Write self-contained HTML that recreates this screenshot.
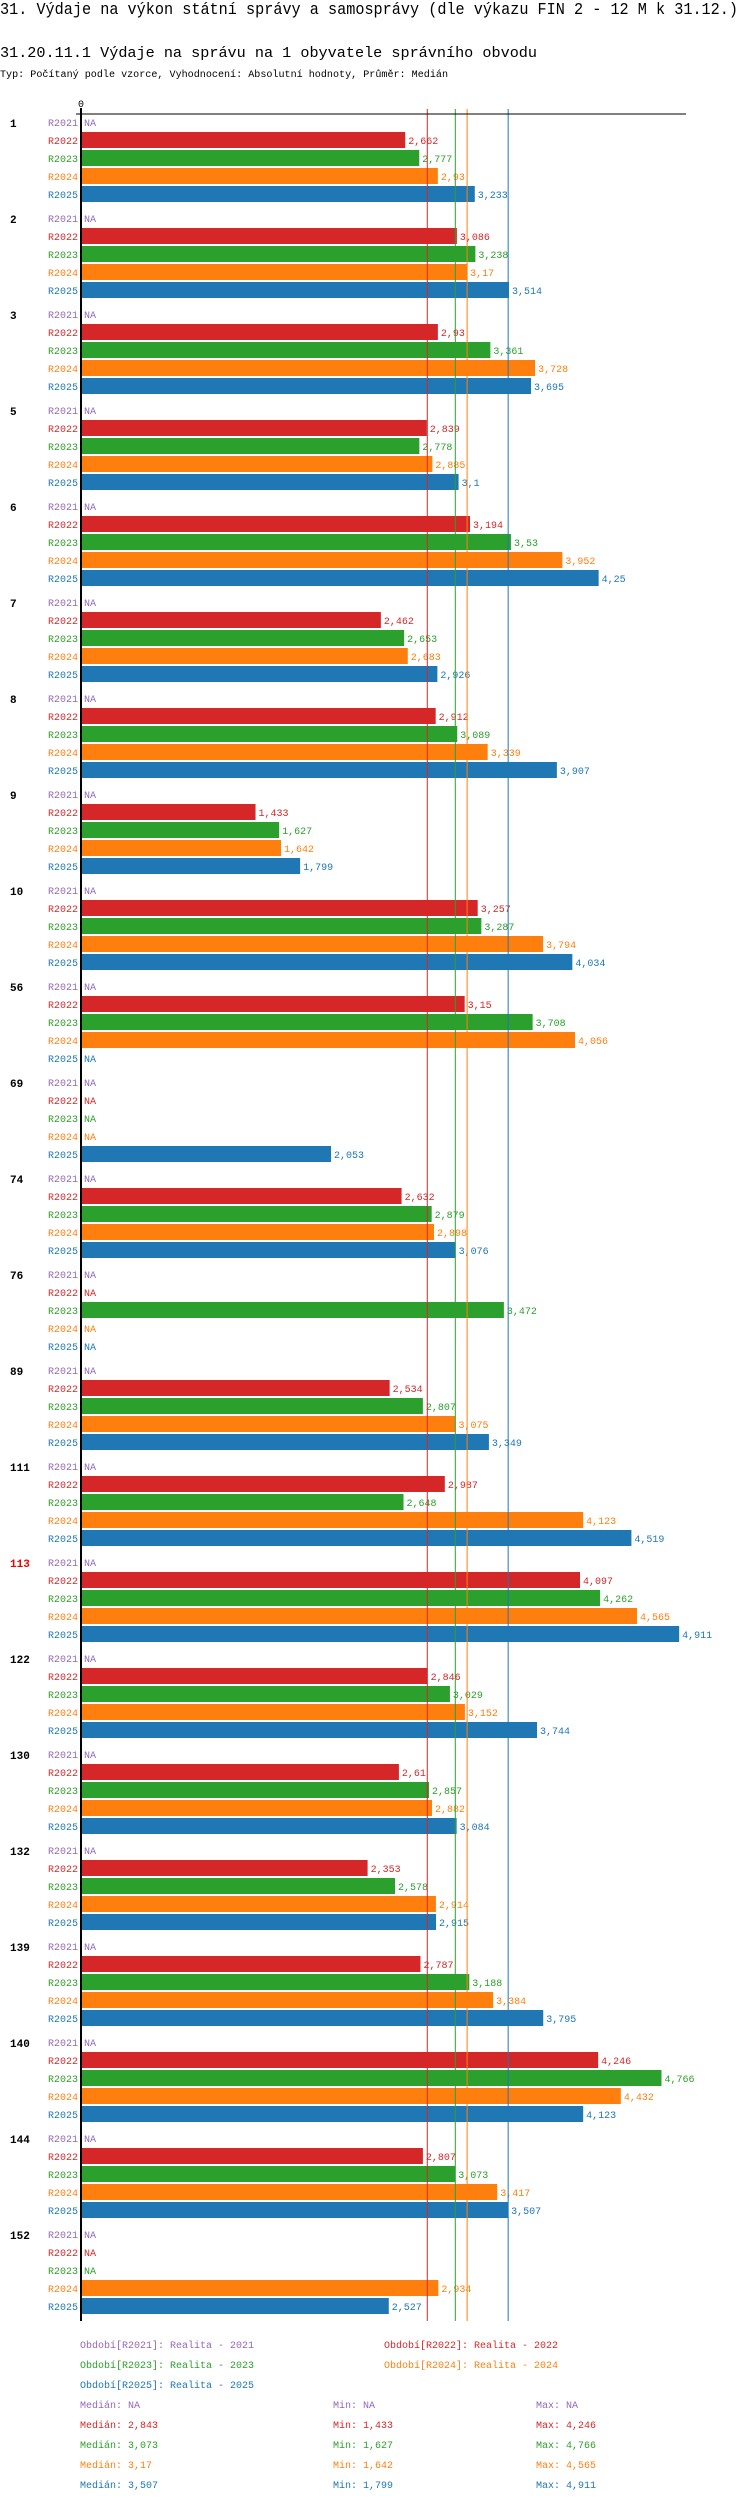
<!DOCTYPE html>
<html><head><meta charset="utf-8">
<style>
body{margin:0;background:#fff;width:750px;height:2502px;overflow:hidden}
svg{display:block}
text{font-family:"Liberation Mono",monospace}
</style></head>
<body>
<svg id="chart" width="750" height="2502" xmlns="http://www.w3.org/2000/svg">
<text x="0" y="14" font-size="16.5" fill="#000" textLength="738" lengthAdjust="spacingAndGlyphs">31. Výdaje na výkon státní správy a samosprávy (dle výkazu FIN 2 - 12 M k 31.12.)</text>
<text x="0" y="57" font-size="15" fill="#000" textLength="537" lengthAdjust="spacingAndGlyphs">31.20.11.1 Výdaje na správu na 1 obyvatele správního obvodu</text>
<text x="0" y="77" font-size="10" fill="#000" textLength="448" lengthAdjust="spacingAndGlyphs">Typ: Počítaný podle vzorce, Vyhodnocení: Absolutní hodnoty, Průměr: Medián</text>
<text x="81" y="107" font-size="10" text-anchor="middle">0</text>
<g id="marks"></g>
</svg>
<script>
const groups=["1","2","3","5","6","7","8","9","10","56","69","74","76","89","111","113","122","130","132","139","140","144","152"];
const series=["R2021","R2022","R2023","R2024","R2025"];
const colors=["#9467bd","#d62728","#2ca02c","#ff7f0e","#1f77b4"];
const r2021=[null,null,null,null,null,null,null,null,null,null,null,null,null,null,null,null,null,null,null,null,null,null,null];
const r2022=[2.662,3.086,2.93,2.839,3.194,2.462,2.912,1.433,3.257,3.15,null,2.632,null,2.534,2.987,4.097,2.846,2.61,2.353,2.787,4.246,2.807,null];
const r2023=[2.777,3.238,3.361,2.778,3.53,2.653,3.089,1.627,3.287,3.708,null,2.879,3.472,2.807,2.648,4.262,3.029,2.857,2.578,3.188,4.766,3.073,null];
const r2024=[2.93,3.17,3.728,2.885,3.952,2.683,3.339,1.642,3.794,4.056,null,2.898,null,3.075,4.123,4.565,3.152,2.882,2.914,3.384,4.432,3.417,2.934];
const r2025=[3.233,3.514,3.695,3.1,4.25,2.926,3.907,1.799,4.034,null,2.053,3.076,null,3.349,4.519,4.911,3.744,3.084,2.915,3.795,4.123,3.507,2.527];
const medians=[null,2.843,3.073,3.17,3.507];
const mins=[null,1.433,1.627,1.642,1.799];
const maxs=[null,4.246,4.766,4.565,4.911];
const highlighted="113";

const vals=[r2021,r2022,r2023,r2024,r2025];
const X0=81,SCALE=121.8,TOP=114,ROW=18,GROUP=96;
const xs=v=>X0+v*SCALE;
const fmt=v=>v===null?"NA":String(v).replace(".",",");
const NS="http://www.w3.org/2000/svg";
const g=document.getElementById("marks");
function mk(tag,attrs,txt){const e=document.createElementNS(NS,tag);for(const k in attrs)e.setAttribute(k,attrs[k]);if(txt!==undefined)e.textContent=txt;g.appendChild(e);return e;}
const bottom=TOP+groups.length*GROUP-1;

groups.forEach((name,gi)=>{
  const gy=TOP+gi*GROUP;
  const gl=mk("text",{x:10,y:gy+13,"font-size":11,"font-weight":"bold",fill:name===highlighted?"#e00":"#000"},name);
  
  
  series.forEach((s,si)=>{
    const y=gy+si*ROW;
    const v=vals[si][gi];
    const lab=mk("text",{x:78,y:y+12,"font-size":10,fill:colors[si],"text-anchor":"end"},s);
    
    
    if(v!==null){
      const r=mk("rect",{x:X0,y:y,width:xs(v)-X0,height:16,fill:colors[si]});
      
      
    }
    const vt=mk("text",{x:(v===null?X0:xs(v))+3,y:y+12,"font-size":10,fill:colors[si]},fmt(v));
    
    
  });
});
// median lines
medians.forEach((m,si)=>{
  if(m===null)return;
  const l=mk("line",{x1:xs(m),x2:xs(m),y1:109,y2:bottom,stroke:colors[si],"stroke-width":1});
  
  
});
const ax=mk("line",{x1:76,x2:686,y1:TOP,y2:TOP,stroke:"#000","stroke-width":1});


const ay=mk("line",{x1:X0,x2:X0,y1:108,y2:bottom,stroke:"#000","stroke-width":2});



// legend
const legPos=[[80,2344],[384,2344],[80,2364],[384,2364],[80,2384]];
series.forEach((s,si)=>{
  const t=mk("text",{x:legPos[si][0],y:legPos[si][1]+4,"font-size":10,fill:colors[si]},"Období["+s+"]: Realita - "+s.slice(1));
  
  
  const y=2404+si*20+4;
  const a=mk("text",{x:80,y:y,"font-size":10,fill:colors[si]},"Medián: "+fmt(medians[si]));
  
  
  const b=mk("text",{x:333,y:y,"font-size":10,fill:colors[si]},"Min: "+fmt(mins[si]));
  
  
  const c=mk("text",{x:536,y:y,"font-size":10,fill:colors[si]},"Max: "+fmt(maxs[si]));
  
  
});
</script>
</body></html>
